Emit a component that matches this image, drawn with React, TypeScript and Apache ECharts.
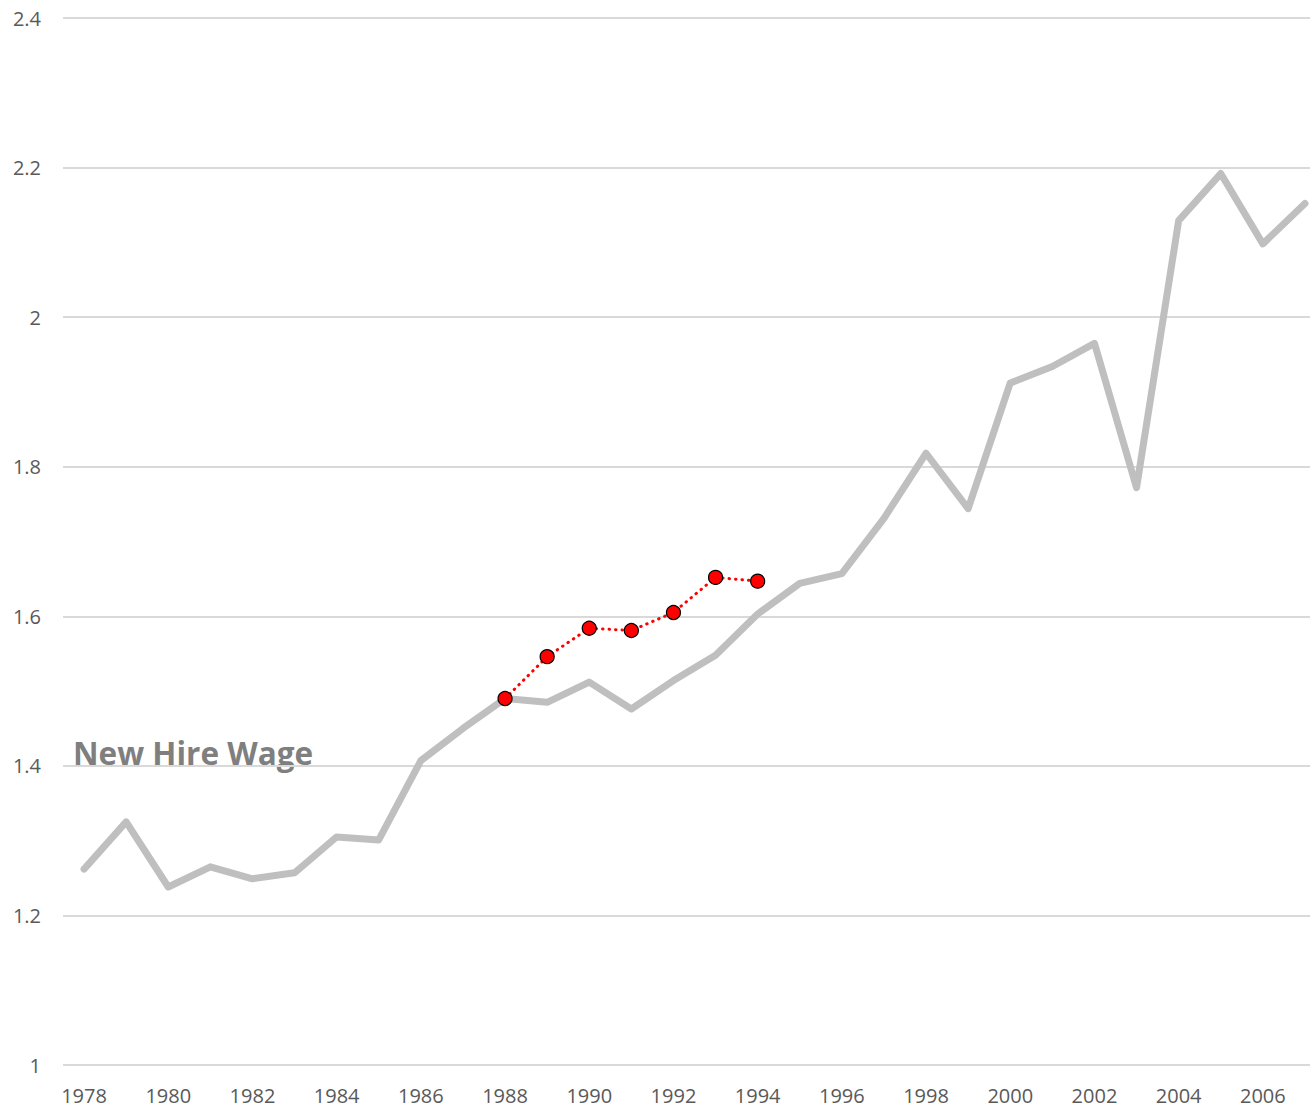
import React, { useEffect, useRef } from "react";
import * as echarts from "echarts";

const years = Array.from({ length: 30 }, (_, i) => String(1978 + i));
const newHireWage = [
  1.262, 1.325, 1.238, 1.265, 1.249, 1.257, 1.305, 1.301, 1.407, 1.45,
  1.49, 1.485, 1.512, 1.476, 1.514, 1.548, 1.603, 1.644, 1.657, 1.731,
  1.818, 1.744, 1.912, 1.934, 1.965, 1.772, 2.129, 2.192, 2.098, 2.152,
];
const redSeries: (number | null)[] = [
  null, null, null, null, null, null, null, null, null, null,
  1.49, 1.546, 1.584, 1.581, 1.605, 1.652, 1.647,
];
const seriesLabel = "New Hire Wage";

export default function App() {
  const ref = useRef<HTMLDivElement>(null);
  useEffect(() => {
    const chart = echarts.init(ref.current!, null, { renderer: "svg" });
    chart.setOption({
      animation: false,
      grid: { left: 63, top: 18, width: 1263, height: 1047 },
      xAxis: {
        type: "category",
        data: years,
        boundaryGap: true,
        axisLine: { show: false },
        axisTick: { show: false },
        axisLabel: {
          interval: 1,
          color: "#595959",
          fontSize: 20,
          fontFamily: "Open Sans",
          margin: 20,
        },
      },
      yAxis: {
        type: "value",
        min: 1,
        max: 2.4,
        interval: 0.2,
        axisLine: { show: false },
        axisTick: { show: false },
        splitLine: { lineStyle: { color: "#d9d9d9", width: 2 } },
        axisLabel: {
          color: "#595959",
          fontSize: 20,
          fontFamily: "Open Sans",
          margin: 22,
          formatter: (v: number) => String(Math.round(v * 10) / 10),
        },
      },
      graphic: [
        {
          type: "text",
          left: 73,
          top: 736,
          style: {
            text: seriesLabel,
            fontSize: 31.5,
            fontWeight: "bold",
            fontFamily: "Open Sans",
            fill: "#7f7f7f",
          },
        },
      ],
      series: [
        {
          type: "line",
          data: newHireWage,
          symbol: "none",
          lineStyle: { color: "#bfbfbf", width: 7, cap: "round", join: "round" },
        },
        {
          type: "line",
          data: redSeries,
          symbol: "circle",
          symbolSize: 14,
          itemStyle: { color: "#ff0000", borderColor: "#000000", borderWidth: 1.2 },
          lineStyle: { color: "#ff0000", width: 3, type: [0.5, 6], cap: "round" },
          z: 3,
        },
      ],
    });
    return () => chart.dispose();
  }, []);
  return (
    <div style={{ position: "absolute", left: 0, top: 0, width: 1310, height: 1111, overflow: "hidden" }}>
      <div ref={ref} style={{ width: 1340, height: 1111 }} />
    </div>
  );
}
